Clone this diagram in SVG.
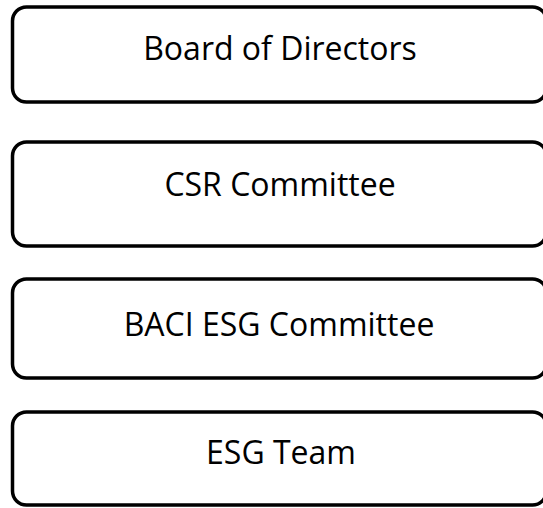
<svg xmlns="http://www.w3.org/2000/svg" width="543" height="508" viewBox="0 0 543 508">
<style>
.box{fill:#fff;stroke:#000;stroke-width:3.5}
.lbl{font-family:"Open Sans","Liberation Sans",sans-serif;font-size:32px;fill:#000;text-anchor:middle}
</style>
<rect width="543" height="508" fill="#fff"/>
<g id="connectors"></g>
<g id="board"><rect class="box" x="12.5" y="7" width="534" height="95" rx="14"/><text class="lbl" x="280" y="60">Board of Directors</text></g>
<g id="csr"><rect class="box" x="12.5" y="142" width="534" height="104" rx="14"/><text class="lbl" x="280" y="196">CSR Committee</text></g>
<g id="baci"><rect class="box" x="12.5" y="279" width="534" height="99" rx="14"/><text class="lbl" x="279" y="336">BACI ESG Committee</text></g>
<g id="team"><rect class="box" x="12.5" y="412" width="534" height="93" rx="14"/><text class="lbl" x="281" y="464">ESG Team</text></g>
</svg>
